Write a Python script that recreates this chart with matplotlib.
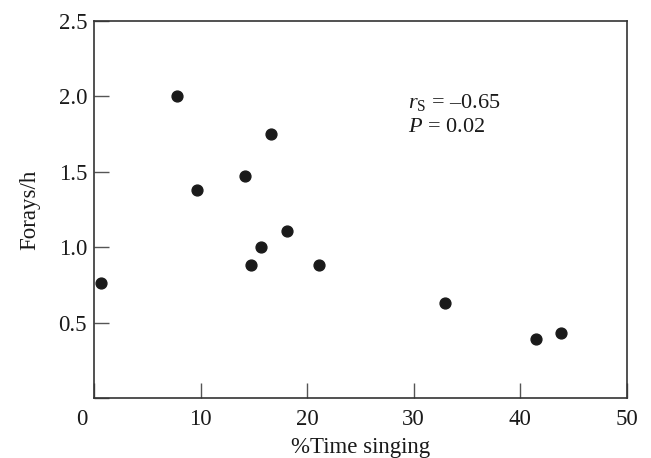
import numpy as np
import matplotlib
matplotlib.use("Agg")
import matplotlib.pyplot as plt
import matplotlib.transforms as mtransforms

plt.rcParams['font.family'] = ['Liberation Serif', 'DejaVu Serif']
plt.rcParams['mathtext.fontset'] = 'custom'
plt.rcParams['mathtext.rm'] = 'Liberation Serif'
plt.rcParams['mathtext.it'] = 'Liberation Serif:italic'

# % time singing vs forays per hour
time_singing = [0.7, 7.8, 9.7, 14.2, 16.6, 14.7, 15.7, 18.1, 21.1, 32.9, 41.5, 43.8]
forays = [0.76, 2.00, 1.38, 1.47, 1.75, 0.88, 1.00, 1.11, 0.88, 0.63, 0.39, 0.43]

xticks = [0, 10, 20, 30, 40, 50]
yticks = [0, 0.5, 1.0, 1.5, 2.0, 2.5]
ylabels = ['', '0.5', '1.0', '1.5', '2.0', '2.5']

fig = plt.figure(figsize=(6.51, 4.58), dpi=100)
ax = fig.add_axes([0.1444, 0.1304, 0.8183, 0.8248])

ax.plot(time_singing, forays, 'o', color='#1a1a1a', markersize=7.8, clip_on=False)

ax.set_xlim(0, 50)
ax.set_ylim(0, 2.5)
ax.set_xticks(xticks)
ax.set_xticklabels([str(t) for t in xticks])
ax.set_yticks(yticks)
ax.set_yticklabels(ylabels)

ax.tick_params(direction='in', length=11, width=1.0, color='#555555',
               labelsize=16.5, labelcolor='#1a1a1a')
ax.tick_params(axis='x', pad=8)
ax.tick_params(axis='y', pad=5)

# shift the "0" label left of the corner
lab0 = ax.get_xticklabels()[0]
lab0.set_transform(lab0.get_transform() +
                   mtransforms.ScaledTranslation(-12 / 100, 0, fig.dpi_scale_trans))

for s in ax.spines.values():
    s.set_color('#333333')
    s.set_linewidth(1.2)

ax.set_xlabel('%Time singing', fontsize=16.5, color='#1a1a1a', labelpad=4.5)
ax.set_ylabel('Forays/h', fontsize=16.5, color='#1a1a1a', labelpad=13)

ax.text(29.5, 1.92, '$r_{\\mathrm{S}}$ = \u20130.65',
        fontsize=16, color='#1a1a1a', va='baseline')
ax.text(29.5, 1.76, '$P$ = 0.02', fontsize=16, color='#1a1a1a', va='baseline')

fig.savefig('out.png', dpi=100)
